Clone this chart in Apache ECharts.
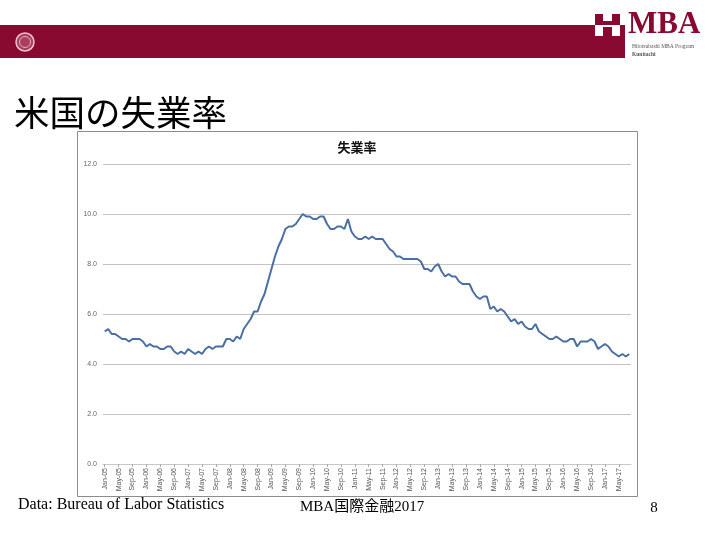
<!DOCTYPE html>
<html><head><meta charset="utf-8">
<script src="https://cdn.jsdelivr.net/npm/echarts@6/dist/echarts.min.js"></script>
<style>html,body{margin:0;padding:0;background:#fff}#c{width:720px;height:540px}</style>
</head><body><div id="c"></div>
<script>
// Monthly US unemployment rate (%), Jan-2005 .. Aug-2017
const u2005 = [5.3,5.4,5.2,5.2,5.1,5.0,5.0,4.9,5.0,5.0,5.0,4.9];
const u2006 = [4.7,4.8,4.7,4.7,4.6,4.6,4.7,4.7,4.5,4.4,4.5,4.4];
const u2007 = [4.6,4.5,4.4,4.5,4.4,4.6,4.7,4.6,4.7,4.7,4.7,5.0];
const u2008 = [5.0,4.9,5.1,5.0,5.4,5.6,5.8,6.1,6.1,6.5,6.8,7.3];
const u2009 = [7.8,8.3,8.7,9.0,9.4,9.5,9.5,9.6,9.8,10.0,9.9,9.9];
const u2010 = [9.8,9.8,9.9,9.9,9.6,9.4,9.4,9.5,9.5,9.4,9.8,9.3];
const u2011 = [9.1,9.0,9.0,9.1,9.0,9.1,9.0,9.0,9.0,8.8,8.6,8.5];
const u2012 = [8.3,8.3,8.2,8.2,8.2,8.2,8.2,8.1,7.8,7.8,7.7,7.9];
const u2013 = [8.0,7.7,7.5,7.6,7.5,7.5,7.3,7.2,7.2,7.2,6.9,6.7];
const u2014 = [6.6,6.7,6.7,6.2,6.3,6.1,6.2,6.1,5.9,5.7,5.8,5.6];
const u2015 = [5.7,5.5,5.4,5.4,5.6,5.3,5.2,5.1,5.0,5.0,5.1,5.0];
const u2016 = [4.9,4.9,5.0,5.0,4.7,4.9,4.9,4.9,5.0,4.9,4.6,4.7];
const u2017 = [4.8,4.7,4.5,4.4,4.3,4.4,4.3,4.4];
const monthNames = ['Jan','Feb','Mar','Apr','May','Jun','Jul','Aug','Sep','Oct','Nov','Dec'];
const yearLabels = ['05','06','07','08','09','10','11','12','13','14','15','16','17'];
const yTicks = [0,2,4,6,8,10,12];

const yearly = [u2005,u2006,u2007,u2008,u2009,u2010,u2011,u2012,u2013,u2014,u2015,u2016,u2017];
const values = [];
const categories = [];
yearly.forEach((arr, yi) => {
  arr.forEach((v, mi) => {
    values.push(v);
    categories.push(monthNames[mi] + '-' + yearLabels[yi]);
  });
});

const RED = '#880a30';
const chart = echarts.init(document.getElementById('c'), null, {renderer: 'canvas'});
chart.setOption({
  animation: false,
  backgroundColor: '#fff',
  grid: {left: 103, right: 89, top: 164, bottom: 76, containLabel: false},
  xAxis: {
    type: 'category',
    data: categories,
    boundaryGap: true,
    axisLine: {show: true, lineStyle: {color: '#c8c8c8', width: 1}},
    axisTick: {show: true, interval: 3, length: 3, alignWithLabel: true, lineStyle: {color: '#aaa'}},
    axisLabel: {interval: 3, rotate: 90, fontSize: 7, color: '#555', margin: 4,
      fontFamily: 'Liberation Sans'}
  },
  yAxis: {
    type: 'value',
    min: yTicks[0], max: yTicks[yTicks.length - 1], interval: 2,
    axisLine: {show: false}, axisTick: {show: false},
    axisLabel: {formatter: v => v.toFixed(1), fontSize: 7, color: '#666', margin: 6,
      fontFamily: 'Liberation Sans'},
    splitLine: {lineStyle: {color: '#c4c4c4', width: 1}}
  },
  series: [{
    type: 'line', data: values, showSymbol: false, symbol: 'none',
    lineStyle: {color: '#4a6fa0', width: 2}
  }],
  graphic: [
    // header bar
    {type: 'rect', shape: {x: 0, y: 25, width: 625, height: 33}, style: {fill: RED}, z: 10},
    // seal
    {type: 'circle', shape: {cx: 25, cy: 42, r: 9}, style: {fill: '#a8405e', stroke: '#f2c4cf', lineWidth: 1.5}, z: 11},
    {type: 'circle', shape: {cx: 25, cy: 42, r: 5.5}, style: {fill: 'none', stroke: '#e8aab9', lineWidth: 1}, z: 11},
    // H logo
    {type: 'rect', shape: {x: 595, y: 14, width: 8, height: 11}, style: {fill: RED}, z: 11},
    {type: 'rect', shape: {x: 612, y: 14, width: 8, height: 11}, style: {fill: RED}, z: 11},
    {type: 'rect', shape: {x: 603, y: 21, width: 9, height: 4}, style: {fill: RED}, z: 11},
    {type: 'rect', shape: {x: 595, y: 25, width: 8, height: 11}, style: {fill: '#fff'}, z: 11},
    {type: 'rect', shape: {x: 612, y: 25, width: 8, height: 11}, style: {fill: '#fff'}, z: 11},
    {type: 'rect', shape: {x: 603, y: 25, width: 9, height: 2}, style: {fill: '#fff'}, z: 11},
    {type: 'text', x: 628, y: 25, z: 11, style: {text: 'MBA', fill: RED, font: 'bold 31px "Liberation Serif"', align: 'left', verticalAlign: 'middle'}},
    {type: 'text', x: 632, y: 47, z: 11, style: {text: 'Hitotsubashi MBA Program', fill: '#555', font: '5.5px "Liberation Serif"', align: 'left', verticalAlign: 'middle'}},
    {type: 'text', x: 632, y: 55, z: 11, style: {text: 'Kunitachi', fill: '#555', font: 'bold 5.5px "Liberation Serif"', align: 'left', verticalAlign: 'middle'}},
    // slide title
    {type: 'text', x: 14, y: 113, z: 11, style: {text: '米国の失業率', fill: '#000', font: '35.5px "Noto Sans CJK JP"', align: 'left', verticalAlign: 'middle'}},
    // chart frame
    {type: 'rect', shape: {x: 77.5, y: 131.5, width: 560, height: 365}, style: {fill: 'none', stroke: '#8c8c8c', lineWidth: 1}, z: 1},
    // chart title
    {type: 'text', x: 357, y: 147, z: 11, style: {text: '失業率', fill: '#111', font: 'bold 13px "Noto Sans CJK JP"', align: 'center', verticalAlign: 'middle'}},
    // footer
    {type: 'text', x: 18, y: 505, z: 11, style: {text: 'Data: Bureau of Labor Statistics', fill: '#000', font: '16px "Liberation Serif"', align: 'left', verticalAlign: 'middle'}},
    {type: 'text', x: 300, y: 507, z: 11, style: {text: 'MBA国際金融2017', fill: '#000', font: '15px "Liberation Serif", "Noto Sans CJK JP"', align: 'left', verticalAlign: 'middle'}},
    {type: 'text', x: 654, y: 508, z: 11, style: {text: '8', fill: '#000', font: '15px "Liberation Serif"', align: 'center', verticalAlign: 'middle'}}
  ]
});
</script>
</body></html>
